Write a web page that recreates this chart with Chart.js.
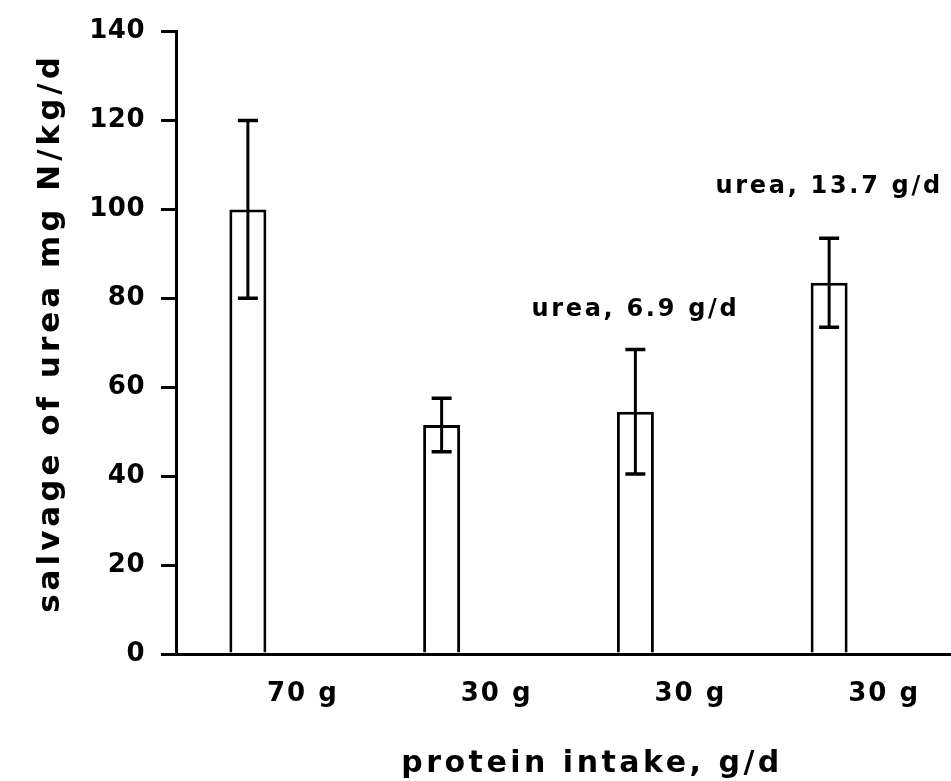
<!DOCTYPE html>
<html>
<head>
<meta charset="utf-8">
<script src="https://cdn.jsdelivr.net/npm/chart.js@4/dist/chart.umd.min.js"></script>
<style>
  html, body { margin: 0; padding: 0; background: #fff; }
  canvas { display: block; }
</style>
</head>
<body>
<canvas id="salvage" width="951" height="781"></canvas>
<script>
// data
const intake = ['70 g', '30 g', '30 g', '30 g'];
const salvage = [100, 51.5, 54.5, 83.5];
const salvageErr = [20, 6, 14, 10];
const spacer = [null, null, null, null];
const notes = ['', '', 'urea, 6.9 g/d', 'urea, 13.7 g/d'];
const noteLevel = [null, null, 77.5, 105];

const FONT = 'DejaVu Sans';

// wide letter spacing like the original typesetting
// (y ticks are drawn before the datasets, x axis after them: z = 1)
const spacing = {
  id: 'spacing',
  beforeUpdate(chart) { chart.ctx.letterSpacing = '2px'; },
  beforeDraw(chart) { chart.ctx.letterSpacing = '0.5px'; },
  afterDatasetsDraw(chart) { chart.ctx.letterSpacing = '2px'; }
};

// error bars, notes and axis titles
const extras = {
  id: 'extras',
  afterDatasetsDraw(chart) {
    const { ctx, scales: { y } } = chart;
    const meta = chart.getDatasetMeta(0);
    ctx.save();
    ctx.strokeStyle = '#000';
    ctx.lineWidth = 3;
    meta.data.forEach((bar, i) => {
      const top = y.getPixelForValue(salvage[i] + salvageErr[i]);
      const bot = y.getPixelForValue(salvage[i] - salvageErr[i]);
      ctx.beginPath();
      ctx.moveTo(bar.x, top);
      ctx.lineTo(bar.x, bot);
      ctx.stroke();
      ctx.lineWidth = 3.5;
      ctx.beginPath();
      ctx.moveTo(bar.x - 10, top);
      ctx.lineTo(bar.x + 10, top);
      ctx.moveTo(bar.x - 10, bot);
      ctx.lineTo(bar.x + 10, bot);
      ctx.stroke();
      ctx.lineWidth = 3;
    });

    ctx.fillStyle = '#000';
    ctx.letterSpacing = '2.7px';
    ctx.font = 'bold 24px "' + FONT + '"';
    ctx.textAlign = 'center';
    ctx.textBaseline = 'middle';
    meta.data.forEach((bar, i) => {
      if (!notes[i]) return;
      ctx.fillText(notes[i], bar.x, y.getPixelForValue(noteLevel[i]));
    });
    ctx.restore();
  },
  afterDraw(chart) {
    const ctx = chart.ctx;
    ctx.save();
    ctx.fillStyle = '#000';
    ctx.letterSpacing = '3.5px';
    ctx.font = 'bold 30px "' + FONT + '"';
    ctx.textAlign = 'center';
    ctx.textBaseline = 'alphabetic';
    ctx.fillText('protein intake, g/d', 592, 772);

    ctx.letterSpacing = '4px';
    ctx.font = 'bold 31px "' + FONT + '"';
    ctx.translate(59, 333);
    ctx.rotate(-Math.PI / 2);
    ctx.fillText('salvage of urea mg N/kg/d', 0, 0);
    ctx.restore();
  }
};

const tickFont = { family: FONT, size: 26, weight: 'bold' };

const chart = new Chart(document.getElementById('salvage'), {
  type: 'bar',
  data: {
    labels: intake,
    datasets: [{
      data: salvage,
      backgroundColor: '#fff',
      borderColor: '#000',
      borderWidth: 3,
      categoryPercentage: 0.516,
      barPercentage: 0.74
    }, {
      data: spacer,
      categoryPercentage: 0.516,
      barPercentage: 0.74
    }]
  },
  options: {
    responsive: false,
    animation: false,
    devicePixelRatio: 1,
    layout: { padding: { top: 25, right: 0, bottom: 0, left: 0 } },
    plugins: {
      legend: { display: false },
      tooltip: { enabled: false }
    },
    scales: {
      x: {
        grid: { display: false, drawTicks: false },
        border: { color: '#000', width: 3, z: 1 },
        ticks: {
          z: 1,
          color: '#000',
          font: tickFont,
          padding: 25,
          labelOffset: 30,
          maxRotation: 0,
          autoSkip: false
        },
        afterFit(scale) { scale.height = 127; }
      },
      y: {
        min: 0,
        max: 140,
        grid: {
          drawOnChartArea: false,
          drawTicks: true,
          tickLength: 15,
          color: '#000',
          lineWidth: 3
        },
        border: { color: '#000', width: 3 },
        ticks: {
          stepSize: 20,
          color: '#000',
          font: tickFont,
          padding: 16
        },
        afterFit(scale) { scale.width = 176; }
      }
    }
  },
  plugins: [spacing, extras]
});
</script>
</body>
</html>
